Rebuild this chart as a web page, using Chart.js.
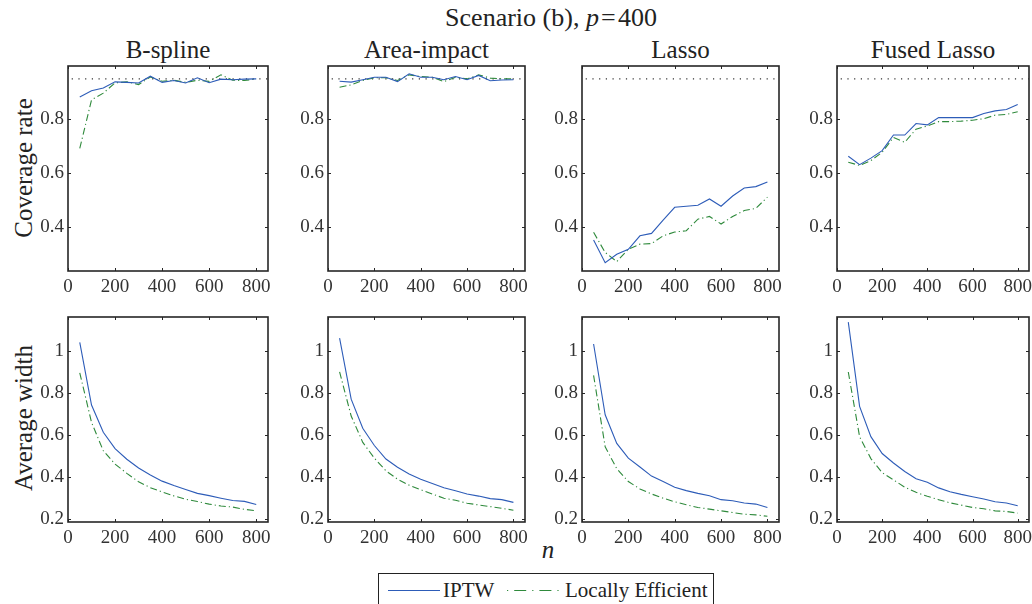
<!DOCTYPE html>
<html>
<head>
<meta charset="utf-8">
<script src="https://cdn.jsdelivr.net/npm/chart.js@4.4.1/dist/chart.umd.min.js"></script>
<style>
  html, body { margin: 0; padding: 0; background: #fff; overflow: hidden; }
  body { width: 1032px; height: 604px; position: relative; font-family: 'Liberation Serif', 'Times New Roman', Times, 'DejaVu Serif', serif; color: #222; }
  .txt { position: absolute; white-space: nowrap; transform: translate(-50%, -50%); }
  .ylab { position: absolute; white-space: nowrap; transform: translate(-50%, -50%) rotate(-90deg); font-size: 25px; }
  canvas.panel { position: absolute; }
  #legend { position: absolute; left: 378px; top: 573px; width: 334px; height: 40px; border: 1.5px solid #222; background: #fff; }
  #legend canvas, #legend span { position: absolute; }
  #legend span { font-size: 21px; top: 4px; white-space: nowrap; }
</style>
</head>
<body>
<div class="txt" style="left:551px;top:18px;font-size:26px">Scenario (b), <i>p</i>&#8202;=&#8202;400</div>
<div class="ylab" style="left:24px;top:168px">Coverage rate</div>
<div class="ylab" style="left:24px;top:418px">Average width</div>
<div class="txt" style="left:548px;top:550px;font-size:25px"><i>n</i></div>
<div id="legend">
  <canvas id="lg1" width="52" height="10" style="left:9px;top:11px"></canvas>
  <span style="left:64px">IPTW</span>
  <canvas id="lg2" width="52" height="10" style="left:128px;top:11px"></canvas>
  <span style="left:186px">Locally Efficient</span>
</div>

<script>
// sample sizes on the x axis
const N = [50, 100, 150, 200, 250, 300, 350, 400, 450, 500, 550, 600, 650, 700, 750, 800];
const PANELS = ['B-spline', 'Area-impact', 'Lasso', 'Fused Lasso'];
const X_TICKS = [0, 200, 400, 600, 800];
const COV_TICKS = [0.4, 0.6, 0.8];
const WID_TICKS = [0.2, 0.4, 0.6, 0.8, 1];
const NOMINAL = 0.95;

// coverage rate, IPTW / locally efficient
const covIptwBspline = [0.883, 0.906, 0.916, 0.939, 0.937, 0.935, 0.960, 0.937, 0.944, 0.935, 0.954, 0.936, 0.949, 0.947, 0.949, 0.950];
const covLeBspline   = [0.691, 0.872, 0.897, 0.935, 0.939, 0.929, 0.957, 0.941, 0.945, 0.937, 0.945, 0.941, 0.965, 0.945, 0.944, 0.950];
const covIptwArea    = [0.941, 0.938, 0.947, 0.956, 0.956, 0.940, 0.969, 0.956, 0.956, 0.947, 0.959, 0.947, 0.963, 0.943, 0.946, 0.947];
const covLeArea      = [0.919, 0.928, 0.944, 0.954, 0.954, 0.944, 0.965, 0.959, 0.956, 0.940, 0.956, 0.950, 0.965, 0.953, 0.950, 0.950];
const covIptwLasso   = [0.350, 0.266, 0.297, 0.316, 0.366, 0.375, 0.424, 0.472, 0.476, 0.480, 0.503, 0.476, 0.514, 0.544, 0.549, 0.566];
const covLeLasso     = [0.379, 0.304, 0.270, 0.316, 0.335, 0.337, 0.366, 0.380, 0.385, 0.428, 0.438, 0.410, 0.438, 0.460, 0.468, 0.510];
const covIptwFused   = [0.662, 0.631, 0.655, 0.683, 0.741, 0.741, 0.784, 0.779, 0.806, 0.806, 0.806, 0.806, 0.821, 0.831, 0.836, 0.855];
const covLeFused     = [0.640, 0.628, 0.646, 0.677, 0.732, 0.714, 0.763, 0.775, 0.791, 0.791, 0.793, 0.796, 0.802, 0.815, 0.818, 0.828];

// average interval width
const widIptwBspline = [1.040, 0.742, 0.613, 0.535, 0.485, 0.443, 0.410, 0.381, 0.360, 0.341, 0.323, 0.312, 0.300, 0.289, 0.285, 0.270];
const widLeBspline   = [0.895, 0.660, 0.525, 0.462, 0.418, 0.378, 0.350, 0.330, 0.311, 0.295, 0.284, 0.272, 0.263, 0.258, 0.247, 0.240];
const widIptwArea    = [1.060, 0.770, 0.632, 0.550, 0.486, 0.447, 0.415, 0.390, 0.370, 0.350, 0.335, 0.320, 0.310, 0.298, 0.293, 0.280];
const widLeArea      = [0.900, 0.690, 0.565, 0.490, 0.430, 0.390, 0.362, 0.340, 0.320, 0.300, 0.290, 0.276, 0.268, 0.260, 0.252, 0.243];
const widIptwLasso   = [1.032, 0.696, 0.560, 0.490, 0.448, 0.405, 0.379, 0.352, 0.336, 0.323, 0.312, 0.293, 0.288, 0.277, 0.272, 0.256];
const widLeLasso     = [0.883, 0.544, 0.440, 0.379, 0.344, 0.320, 0.300, 0.283, 0.269, 0.256, 0.248, 0.240, 0.232, 0.224, 0.221, 0.214];
const widIptwFused   = [1.136, 0.736, 0.592, 0.512, 0.467, 0.427, 0.392, 0.376, 0.349, 0.331, 0.318, 0.307, 0.296, 0.283, 0.277, 0.264];
const widLeFused     = [0.899, 0.592, 0.488, 0.421, 0.387, 0.352, 0.328, 0.309, 0.293, 0.278, 0.267, 0.256, 0.250, 0.240, 0.237, 0.229];

const COV = [[covIptwBspline, covLeBspline], [covIptwArea, covLeArea], [covIptwLasso, covLeLasso], [covIptwFused, covLeFused]];
const WID = [[widIptwBspline, widLeBspline], [widIptwArea, widLeArea], [widIptwLasso, widLeLasso], [widIptwFused, widLeFused]];

// layout (px)
const X_MIN = 0, X_MAX = 850;
const PANEL_LEFT = [68, 328, 582, 837];
const PANEL_W = [200, 197, 197, 192];
const ROW_TOP = [66, 317];
const PANEL_H = 205;
const PAD_L = 42, PAD_T = 12, PAD_R = 8, PAD_B = 30;

const BLUE = '#2d5cb8';
const GREEN = '#2f8a3c';
const INK = '#262626';
const FONT = "'Liberation Serif', 'Times New Roman', Times, 'DejaVu Serif', serif";

const frame = {
  id: 'frame',
  afterDatasetsDraw(chart) {
    const { ctx, chartArea: a, scales: { x, y } } = chart;
    ctx.save();
    ctx.strokeStyle = INK;
    ctx.lineWidth = 1;
    ctx.beginPath();
    x.ticks.forEach(t => {
      const px = Math.round(x.getPixelForValue(t.value)) + 0.5;
      ctx.moveTo(px, a.bottom); ctx.lineTo(px, a.bottom - 3);
      ctx.moveTo(px, a.top); ctx.lineTo(px, a.top + 3);
    });
    y.ticks.forEach(t => {
      const py = Math.round(y.getPixelForValue(t.value)) + 0.5;
      ctx.moveTo(a.left, py); ctx.lineTo(a.left + 3, py);
      ctx.moveTo(a.right, py); ctx.lineTo(a.right - 3, py);
    });
    ctx.stroke();
    ctx.lineWidth = 1.6;
    ctx.strokeRect(a.left, a.top, a.right - a.left, a.bottom - a.top);
    ctx.restore();
  }
};

function pts(ys) { return N.map((n, i) => ({ x: n, y: ys[i] })); }

function makePanel(col, row) {
  const cv = document.createElement('canvas');
  cv.className = 'panel';
  const w = PANEL_W[col] + PAD_L + PAD_R, h = PANEL_H + PAD_T + PAD_B;
  cv.width = w; cv.height = h;
  cv.style.width = w + 'px'; cv.style.height = h + 'px';
  cv.style.left = (PANEL_LEFT[col] - PAD_L) + 'px';
  cv.style.top = (ROW_TOP[row] - PAD_T) + 'px';
  document.body.appendChild(cv);

  const series = row === 0 ? COV[col] : WID[col];
  const datasets = [
    { data: pts(series[0]), borderColor: BLUE, borderWidth: 1.1, pointRadius: 0, tension: 0 },
    { data: pts(series[1]), borderColor: GREEN, borderWidth: 1.1, borderDash: [7, 3, 1.2, 3], pointRadius: 0, tension: 0 },
  ];
  if (row === 0) {
    datasets.push({ data: [{ x: X_MIN, y: NOMINAL }, { x: X_MAX, y: NOMINAL }], borderColor: '#333',
      borderWidth: 1.2, borderDash: [1.2, 5.5], borderDashOffset: 3, pointRadius: 0 });
  }
  const yTicks = row === 0 ? COV_TICKS : WID_TICKS;
  const noPad = s => { s.paddingTop = 0; s.paddingBottom = 0; s.paddingLeft = 0; s.paddingRight = 0; };
  new Chart(cv.getContext('2d'), {
    type: 'line',
    data: { datasets },
    options: {
      responsive: false, animation: false, devicePixelRatio: 1,
      layout: { padding: { left: 0, top: PAD_T, right: PAD_R, bottom: 0 } },
      plugins: { legend: { display: false }, tooltip: { enabled: false } },
      scales: {
        x: {
          type: 'linear', min: X_MIN, max: X_MAX,
          afterBuildTicks: s => { s.ticks = X_TICKS.map(v => ({ value: v })); },
          afterFit: s => { s.height = PAD_B; noPad(s); },
          grid: { display: false, drawTicks: false }, border: { display: false },
          ticks: { color: '#333', padding: 5, maxRotation: 0, font: { family: FONT, size: 19 } },
        },
        y: {
          type: 'linear',
          min: row === 0 ? 0.235 : 0.187, max: row === 0 ? 0.998 : 1.16,
          afterBuildTicks: s => { s.ticks = yTicks.map(v => ({ value: v })); },
          afterFit: s => { s.width = PAD_L; noPad(s); },
          grid: { display: false, drawTicks: false }, border: { display: false },
          ticks: { color: '#333', padding: 4, callback: v => String(v), font: { family: FONT, size: 19 } },
        },
      },
    },
    plugins: [frame],
  });
}

PANELS.forEach((name, col) => {
  const t = document.createElement('div');
  t.className = 'txt';
  t.style.left = (PANEL_LEFT[col] + PANEL_W[col] / 2) + 'px';
  t.style.top = '50px';
  t.style.fontSize = '25px';
  t.textContent = name;
  document.body.appendChild(t);
  makePanel(col, 0);
  makePanel(col, 1);
});

// legend line samples
function sample(id, color, dash) {
  const c = document.getElementById(id).getContext('2d');
  c.strokeStyle = color; c.lineWidth = 1.2; c.setLineDash(dash);
  c.beginPath(); c.moveTo(0, 5.5); c.lineTo(52, 5.5); c.stroke();
}
sample('lg1', BLUE, []);
sample('lg2', GREEN, [1.2, 6, 12, 6, 1.2, 6, 12, 6]);
</script>
</body>
</html>
